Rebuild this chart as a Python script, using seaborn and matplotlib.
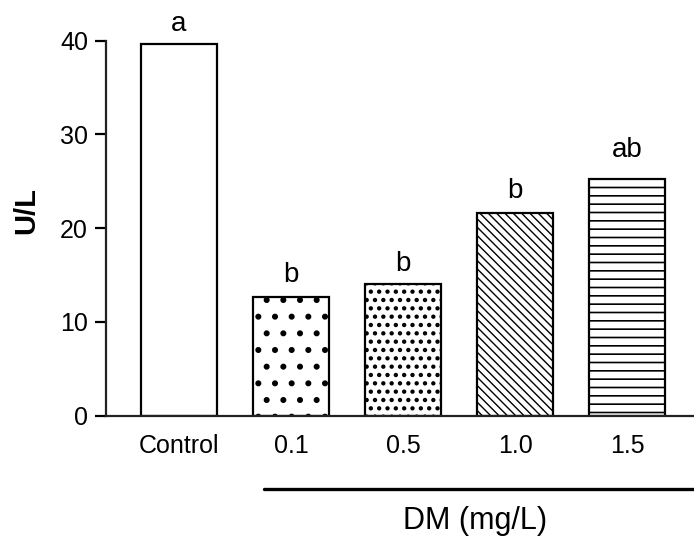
import matplotlib
matplotlib.use("Agg")
import matplotlib.pyplot as plt
import seaborn as sns
import pandas as pd
from matplotlib.lines import Line2D

categories = ["Control", "0.1", "0.5", "1.0", "1.5"]
values = [39.7, 12.7, 14.0, 21.6, 25.2]
letters = ["a", "b", "b", "b", "ab"]
hatches = ["", ".", "..", "\\\\\\\\", "--"]
hatch_widths = [1.0, 1.9, 1.9, 1.0, 1.2]
y_ticks = [0, 10, 20, 30, 40]

sns.set_style("ticks")
plt.rcParams['font.family'] = ['Liberation Sans', 'DejaVu Sans']
plt.rcParams['hatch.linewidth'] = 1.2
plt.rcParams['hatch.color'] = 'black'
plt.rcParams['text.color'] = 'black'
plt.rcParams['xtick.color'] = 'black'
plt.rcParams['ytick.color'] = 'black'
plt.rcParams['axes.edgecolor'] = '#222222'

df = pd.DataFrame({"group": categories, "value": values})

fig = plt.figure(figsize=(6.94, 5.37), dpi=100)
ax = fig.add_axes([0.1527, 0.2259, 0.8473, 0.6983])

sns.barplot(data=df, x="group", y="value", order=categories, color="white",
            saturation=1, edgecolor="black", linewidth=1.6, width=0.68,
            errorbar=None, ax=ax)

for patch, h, hw in zip(ax.patches, hatches, hatch_widths):
    patch.set_hatch(h)
    if hasattr(patch, "set_hatch_linewidth"):
        patch.set_hatch_linewidth(hw)
    patch.set_facecolor("white")
    patch.set_edgecolor("black")

offsets = [13, 15, 13, 15, 22]
for i, (v, lab) in enumerate(zip(values, letters)):
    ax.annotate(lab, xy=(i, v), xytext=(0, offsets[i] * 0.72), textcoords="offset points",
                ha="center", va="baseline", fontsize=20, color="black", clip_on=False)

ax.set_ylim(0, 40)
ax.set_xlim(-0.652, 4.598)
ax.set_yticks(y_ticks)
ax.tick_params(axis="y", length=8, width=1.6, labelsize=18, pad=5, colors="black")
ax.tick_params(axis="x", length=0, labelsize=18, pad=13, colors="black")
for s in ["left", "bottom"]:
    ax.spines[s].set_linewidth(1.6)
sns.despine(ax=ax, top=True, right=True)

ax.set_xlabel("")
ax.set_ylabel("U/L", fontsize=21, fontweight="bold", color="black")
ax.yaxis.set_label_coords(-0.112, 0.546)

fig.add_artist(Line2D([264 / 694, 1.0], [1 - 489 / 537, 1 - 489 / 537],
                      transform=fig.transFigure, color="black", linewidth=2.4))
fig.text(475 / 694, 1 - 521 / 537, "DM (mg/L)", ha="center", va="center", fontsize=22,
         color="black")

fig.savefig("out.png", dpi=100)
